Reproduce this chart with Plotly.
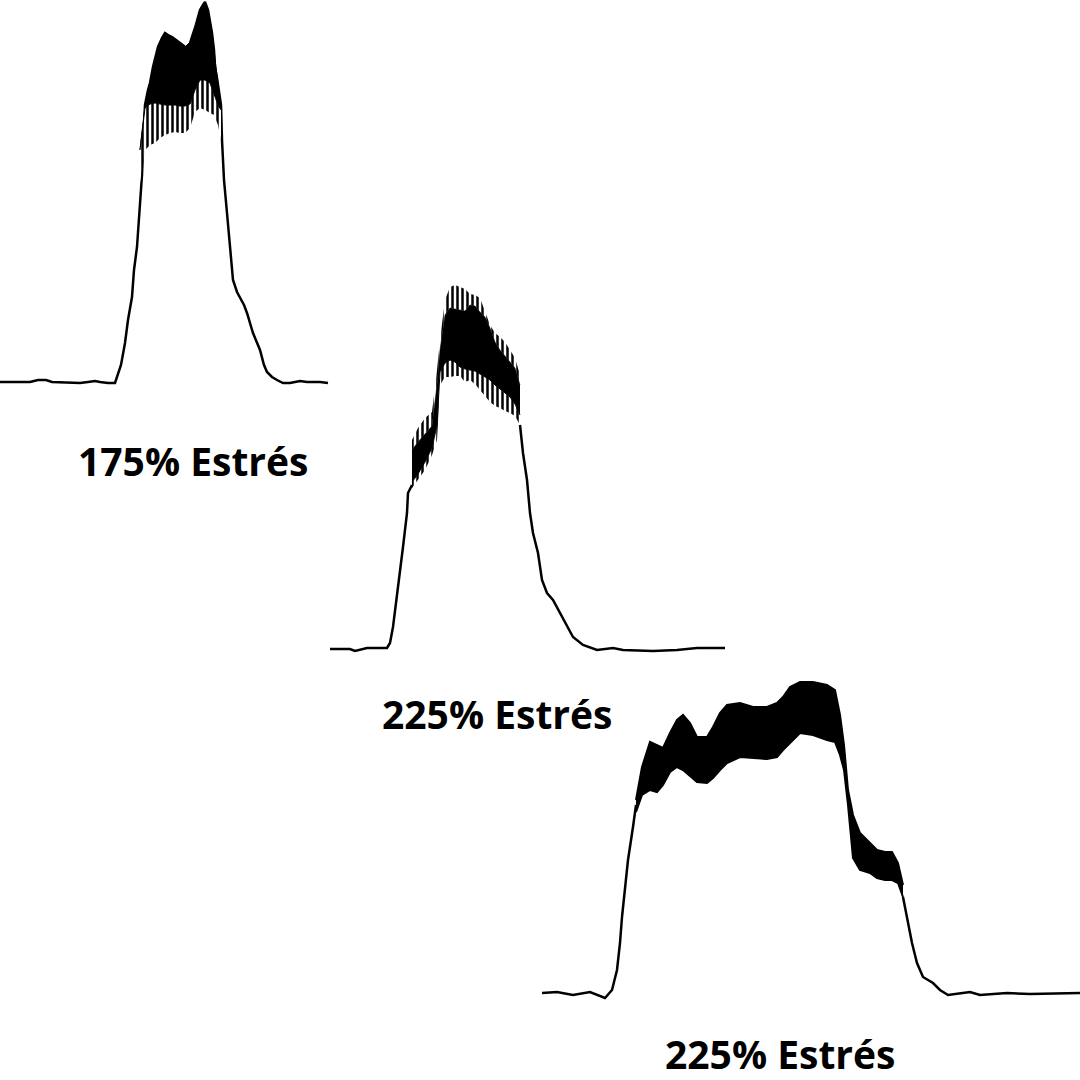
import plotly.graph_objects as go

# ---------------- data (time in samples, amplitude in arbitrary units) ----------------
# Panel 1 : 175% Estrés
p1_t = [0, 30, 38, 46, 52, 72, 80, 88, 95, 100, 108, 115, 118, 121, 125, 128, 132, 134, 137, 140,
        142, 143, 145, 148, 150, 153, 156, 158, 162, 165, 168, 172, 176, 180, 184, 188, 190, 192, 195, 197,
        200, 203, 205, 208, 210, 212, 214, 215, 217, 219, 221, 222, 224, 227, 230, 233, 237, 240, 244, 247,
        253, 260, 264, 267, 272, 277, 283, 290, 300, 307, 315, 320, 328]
p1_amp = [0, 0, 2, 2, 0, -1, -1, 0, 1, 0, -1, -1, 7, 17, 39, 62, 85, 112, 135, 175,
          207, 232, 277, 292, 299, 315, 327, 335, 344, 349, 347, 345, 342, 339, 336, 332, 340, 345, 354, 362,
          372, 377, 380, 372, 360, 349, 332, 315, 304, 292, 277, 242, 202, 169, 135, 102, 90, 85, 77, 69,
          49, 32, 17, 10, 5, 2, -1, -1, 1, 0, 0, 0, -1]
p1_band_t = [140, 145, 150, 155, 160, 165, 170, 175, 180, 185, 190, 195, 200, 205, 210, 214, 218, 221]
p1_band_max = [232, 277, 299, 322, 340, 349, 346, 343, 339, 335, 340, 354, 372, 380, 360, 332, 297, 277]
p1_band_core_low = [232, 274, 278, 279, 278, 277, 277, 277, 276, 276, 278, 292, 302, 302, 299, 287, 277, 272]
p1_band_min = [200, 232, 237, 239, 244, 247, 249, 250, 249, 249, 254, 270, 274, 272, 269, 267, 257, 242]

# Panel 2 : 225% Estrés
p2_t_rise = [0, 20, 25, 37, 57, 60, 63, 67, 70, 73, 77, 78, 82]
p2_amp_rise = [1, 1, -1, 2, 2, 7, 23, 53, 77, 103, 137, 157, 165]
p2_t_fall = [190, 193, 197, 200, 203, 208, 212, 217, 223, 230, 237, 243, 253, 267, 283, 293, 323, 347, 367, 395]
p2_amp_fall = [225, 197, 170, 137, 117, 97, 70, 57, 50, 37, 23, 13, 5, 0, 2, 0, -1, 0, 2, 2]
p2_band_t = [82, 88, 95, 102, 107, 110, 115, 120, 125, 130, 135, 140, 145, 150, 155, 160, 165, 170, 175, 180, 185, 190]
p2_band_max = [210, 222, 232, 238, 280, 310, 350, 363, 365, 363, 361, 356, 355, 352, 338, 325, 317, 313, 308, 300, 292, 275]
p2_band_core_high = [200, 208, 216, 224, 265, 300, 335, 342, 341, 340, 339, 345, 344, 338, 333, 322, 308, 300, 294, 288, 282, 265]
p2_band_core_low = [168, 176, 188, 202, 225, 278, 287, 290, 288, 283, 281, 280, 279, 276, 273, 270, 265, 261, 257, 253, 246, 235]
p2_band_min = [162, 170, 180, 195, 210, 265, 273, 273, 274, 274, 268, 270, 266, 260, 254, 248, 244, 242, 239, 237, 234, 225]

# Panel 3 : 225% Estrés
p3_t_rise = [0, 15, 31, 48, 63, 70, 75, 78, 80, 83, 86, 91, 94]
p3_amp_rise = [2, 3, 0, 3, -3, 5, 25, 52, 78, 108, 135, 168, 190]
p3_t_fall = [361, 365, 370, 375, 381, 391, 398, 406, 418, 428, 438, 465, 488, 520, 538]
p3_amp_fall = [98, 78, 52, 32, 18, 12, 5, 0, 2, 3, 0, 2, 1, 2, 2]
p3_band_t = [94, 100, 108, 115, 121, 128, 135, 141, 148, 155, 165, 171, 178, 185, 198, 211, 225, 235, 241, 248,
             258, 271, 285, 293, 298, 302, 306, 311, 318, 328, 335, 343, 350, 356, 361]
p3_band_max = [195, 228, 253, 250, 247, 262, 275, 280, 272, 258, 258, 268, 282, 290, 292, 288, 288, 292, 298, 308,
               313, 313, 310, 305, 280, 250, 205, 180, 162, 152, 145, 143, 143, 132, 110]
p3_band_min = [183, 200, 205, 203, 210, 223, 228, 225, 219, 213, 212, 217, 225, 232, 238, 237, 236, 238, 245, 252,
               262, 260, 255, 253, 240, 225, 190, 137, 125, 122, 117, 115, 115, 112, 98]

labels = ["175% Estrés", "225% Estrés", "225% Estrés"]

# ---------------- figure ----------------
W = H = 1080
fig = go.Figure()

BLACK = "black"
stripe = dict(shape="|", fgcolor="black", bgcolor="white", fgopacity=1, size=5, solidity=0.5)


def add_line(t, a, ax, width=2.5):
    fig.add_trace(go.Scatter(x=t, y=a, mode="lines", line=dict(color=BLACK, width=width),
                             xaxis="x" + ax, yaxis="y" + ax, hoverinfo="skip", showlegend=False))


def add_solid(t, a, ax, width=1):
    fig.add_trace(go.Scatter(x=t, y=a, mode="lines", line=dict(color=BLACK, width=width),
                             fill="tonexty", fillcolor=BLACK,
                             xaxis="x" + ax, yaxis="y" + ax, hoverinfo="skip", showlegend=False))


def add_striped(t, a, ax):
    fig.add_trace(go.Scatter(x=t, y=a, mode="lines", line=dict(color="rgba(0,0,0,0)", width=0),
                             fill="tonexty", fillcolor="white", fillpattern=stripe,
                             xaxis="x" + ax, yaxis="y" + ax, hoverinfo="skip", showlegend=False))


# panel 1
add_line(p1_t, p1_amp, "")
add_line(p1_band_t, p1_band_max, "", width=1)
add_solid(p1_band_t, p1_band_core_low, "")
add_striped(p1_band_t, p1_band_min, "")

# panel 2
add_line(p2_t_rise, p2_amp_rise, "2")
add_line(p2_t_fall, p2_amp_fall, "2")
add_line(p2_band_t, p2_band_max, "2", width=0)
add_striped(p2_band_t, p2_band_core_high, "2")
add_line(p2_band_t, p2_band_core_high, "2", width=0.5)
add_solid(p2_band_t, p2_band_core_low, "2")
add_striped(p2_band_t, p2_band_min, "2")

# panel 3
add_line(p3_t_rise, p3_amp_rise, "3")
add_line(p3_t_fall, p3_amp_fall, "3")
add_line(p3_band_t, p3_band_max, "3", width=2)
add_solid(p3_band_t, p3_band_min, "3", width=2)

# panel placement (pixels of the page)
panels = [
    # x0, x1, ytop, ybottom, baseline
    (0, 330, 0, 392, 382),
    (330, 727, 280, 660, 650),
    (542, 1080, 675, 1005, 995),
]
layout_axes = {}
for i, (x0, x1, yt, yb, base) in enumerate(panels):
    sfx = "" if i == 0 else str(i + 1)
    layout_axes["xaxis" + sfx] = dict(domain=[x0 / W, x1 / W], range=[0, x1 - x0], visible=False,
                                      anchor="y" + sfx, fixedrange=True)
    layout_axes["yaxis" + sfx] = dict(domain=[1 - yb / H, 1 - yt / H], range=[base - yb, base - yt],
                                      visible=False, anchor="x" + sfx, fixedrange=True)

label_pos = [(193, 461), (497, 713), (780, 1053)]
annotations = [
    dict(text=txt, x=px / W, y=1 - py / H, xref="paper", yref="paper", xanchor="center", yanchor="middle",
         showarrow=False, font=dict(family="Open Sans", size=39, color="black", weight="bold"))
    for txt, (px, py) in zip(labels, label_pos)
]

fig.update_layout(width=W, height=H, margin=dict(l=0, r=0, t=0, b=0),
                  paper_bgcolor="white", plot_bgcolor="rgba(0,0,0,0)",
                  showlegend=False, annotations=annotations, **layout_axes)

fig.write_html("out.html", config={"displayModeBar": False},
               post_script="document.body.style.margin='0';document.body.style.overflow='hidden';")
